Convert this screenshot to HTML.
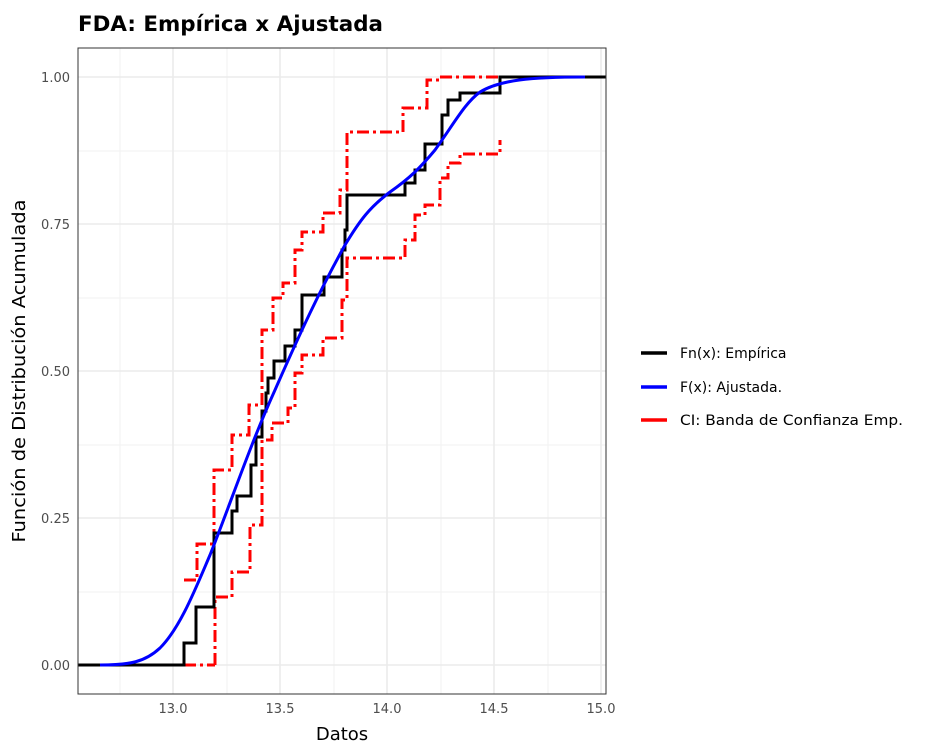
<!DOCTYPE html><html><head><meta charset="utf-8"><style>body{margin:0;background:#fff}</style></head><body>
<svg width="933" height="751" xmlns="http://www.w3.org/2000/svg" font-family="DejaVu Sans, Liberation Sans, sans-serif">
<rect width="933" height="751" fill="#fff"/>
<g stroke="#f2f2f2" stroke-width="1">
<line x1="78" x2="606" y1="592" y2="592"/><line x1="78" x2="606" y1="445" y2="445"/><line x1="78" x2="606" y1="298" y2="298"/><line x1="78" x2="606" y1="151" y2="151"/>
<line x1="120" x2="120" y1="48" y2="694"/><line x1="227" x2="227" y1="48" y2="694"/><line x1="334" x2="334" y1="48" y2="694"/><line x1="441" x2="441" y1="48" y2="694"/><line x1="548" x2="548" y1="48" y2="694"/>
</g>
<g stroke="#ebebeb" stroke-width="1.6">
<line x1="78" x2="606" y1="665" y2="665"/><line x1="78" x2="606" y1="518" y2="518"/><line x1="78" x2="606" y1="371" y2="371"/><line x1="78" x2="606" y1="224" y2="224"/><line x1="78" x2="606" y1="77" y2="77"/>
<line x1="173" x2="173" y1="48" y2="694"/><line x1="280" x2="280" y1="48" y2="694"/><line x1="387" x2="387" y1="48" y2="694"/><line x1="494" x2="494" y1="48" y2="694"/><line x1="601" x2="601" y1="48" y2="694"/>
</g>
<g fill="none" stroke-width="3">
<polyline stroke="#f00" stroke-dasharray="12,4,3,4" points="215,665 215,597 232,597 232,572 250,572 250,525 262,525 262,440 272,440 272,423 288,423 288,408 295,408 295,373 302,373 302,355 323,355 323,338 342,338 342,300 347,300 347,258 405,258 405,240 415,240 415,215 425,215 425,205 440,205 440,178 448,178 448,163 460,163 460,154 500,154 500,140"/>
<polyline stroke="#f00" stroke-dasharray="12,4,3,4" points="184,580 197,580 197,544 214,544 214,470 232,470 232,435 249,435 249,405 262,405 262,330 273,330 273,298 283,298 283,283 295,283 295,250 302,250 302,232 323,232 323,213 340,213 340,190 347,190 347,132 403,132 403,108 427,108 427,80 440,80 440,77 500,77"/>
<polyline stroke="#f00" stroke-dasharray="12,4,3,4" points="184,665 215,665"/>
<polyline stroke="#000" points="78,665 184,665 184,643 196,643 196,607 214,607 214,533 232,533 232,511 237,511 237,496 251,496 251,465 256,465 256,437 262,437 262,411 266,411 266,393 268,393 268,378 274,378 274,361 285,361 285,346 295,346 295,330 302,330 302,295 324,295 324,277 342,277 342,250 345,250 345,230 347,230 347,195 405,195 405,183 415,183 415,170 425,170 425,144 442,144 442,115 448,115 448,100 460,100 460,93 500,93 500,77 606,77"/>
<path stroke="#00f" d="M100,665 C130,665 145,662 160,648 C180,628 195,590 210,555 C230,505 250,445 275,390 C300,333 320,290 345,245 C360,220 370,207 390,192 C410,178 420,168 435,150 C455,122 465,103 480,92 C500,80 530,77 585,77"/>
</g>
<rect x="78" y="48" width="528" height="646" fill="none" stroke="#333" stroke-width="1"/>
<g font-size="13" fill="#4d4d4d" text-anchor="end">
<text x="70" y="670">0.00</text><text x="70" y="523">0.25</text><text x="70" y="376">0.50</text><text x="70" y="229">0.75</text><text x="70" y="82">1.00</text>
</g>
<g font-size="13" fill="#4d4d4d" text-anchor="middle">
<text x="173" y="713">13.0</text><text x="280" y="713">13.5</text><text x="387" y="713">14.0</text><text x="494" y="713">14.5</text><text x="601" y="713">15.0</text>
</g>
<text x="342" y="740" font-size="18" text-anchor="middle">Datos</text>
<text transform="translate(25,371) rotate(-90)" font-size="18" text-anchor="middle" textLength="343" lengthAdjust="spacingAndGlyphs">Función de Distribución Acumulada</text>
<text x="78" y="31" font-size="21" font-weight="bold" textLength="305" lengthAdjust="spacingAndGlyphs">FDA: Empírica x Ajustada</text>
<g stroke-width="3.5"><line x1="641" x2="667" y1="353" y2="353" stroke="#000"/><line x1="641" x2="667" y1="387" y2="387" stroke="#00f"/><line x1="641" x2="667" y1="420" y2="420" stroke="#f00"/></g>
<g font-size="14" fill="#000"><text x="680" y="358">Fn(x): Empírica</text><text x="680" y="392">F(x): Ajustada.</text><text x="680" y="425" textLength="223" lengthAdjust="spacingAndGlyphs">CI: Banda de Confianza Emp.</text></g>
</svg></body></html>
